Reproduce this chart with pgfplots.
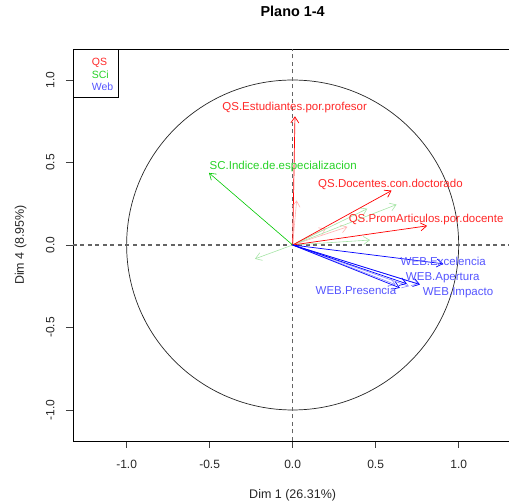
\documentclass[border=0pt]{standalone}
\usepackage{pgfplots}
\pgfplotsset{compat=1.18}
\usepackage{fontspec}
\setmainfont{Liberation Sans}
\usetikzlibrary{arrows.meta}
\definecolor{qsred}{RGB}{255,0,0}
\definecolor{qslab}{RGB}{255,40,40}
\definecolor{scgreen}{RGB}{0,200,0}
\definecolor{sclab}{RGB}{40,210,40}
\definecolor{webblue}{RGB}{0,0,255}
\definecolor{weblab}{RGB}{85,85,255}
\definecolor{dashgray}{RGB}{100,100,100}
\begin{document}
\begin{tikzpicture}
\begin{axis}[
  scale only axis, width=439.3pt, height=392pt,
  xmin=-1.323, xmax=1.323, ymin=-1.188, ymax=1.188,
  xtick={-1,-0.5,0,0.5,1}, ytick={-1,-0.5,0,0.5,1},
  xticklabels={-1.0,-0.5,0.0,0.5,1.0},
  yticklabels={-1.0,-0.5,0.0,0.5,1.0},
  tick pos=left, tick align=outside, major tick length=7pt,
  tick style={black!75, line width=0.8pt},
  axis line style={line width=0.8pt},
  ticklabel style={font=\fontsize{12}{14}\selectfont, text=black!85},
  xticklabel style={anchor=north, yshift=-9pt},
  yticklabel style={xshift=-8pt, rotate=90, anchor=south},
  xlabel={Dim 1 (26.31\%)}, ylabel={Dim 4 (8.95\%)},
  label style={font=\fontsize{12.5}{14}\selectfont, text=black!85},
  xlabel style={at={(axis description cs:0.5,-0.1395)}, anchor=center},
  ylabel style={at={(axis description cs:-0.119,0.5)}, anchor=center, rotate=0},
  title={\textbf{Plano 1-4}},
  title style={at={(axis description cs:0.5,1.0800)}, anchor=center, font=\fontsize{14.4}{16}\selectfont},
  clip=false,
]
% guides
\draw[black!85, line width=0.7pt] (axis cs:0,0) ellipse [x radius=1, y radius=1];
\draw[dashgray, line width=1.4pt, dash pattern=on 4pt off 3.5pt] (axis cs:-1.323,0) -- (axis cs:1.323,0);
\draw[dashgray, line width=1.4pt, dash pattern=on 4pt off 3.5pt] (axis cs:0,-1.188) -- (axis cs:0,1.188);
% faint arrows
\addplot[no markers, red!30, line width=0.6pt, quiver={u=\thisrow{u},v=\thisrow{v}}, -{Straight Barb[length=6pt,width=8pt]}] table {
x y u v
0 0 0.024 0.27
0 0 0.33 0.11
0 0 0.20 0.10
};
\addplot[no markers, green!70!black!35!white, line width=0.6pt, quiver={u=\thisrow{u},v=\thisrow{v}}, -{Straight Barb[length=6pt,width=8pt]}] table {
x y u v
0 0 0.626 0.245
0 0 0.466 0.03
0 0 -0.227 -0.084
0 0 0.45 0.22
};
\addplot[no markers, webblue!45, line width=0.6pt, quiver={u=\thisrow{u},v=\thisrow{v}}, -{Straight Barb[length=6pt,width=8pt]}] table {
x y u v
0 0 0.757 -0.235
0 0 0.70 -0.25
0 0 0.62 -0.24
};
% solid arrows
\addplot[no markers, qsred, line width=0.7pt, quiver={u=\thisrow{u},v=\thisrow{v}}, -{Straight Barb[length=6pt,width=8pt]}] table {
x y u v
0 0 0.014 0.78
0 0 0.596 0.33
0 0 0.81 0.116
};
\addplot[no markers, scgreen, line width=0.6pt, quiver={u=\thisrow{u},v=\thisrow{v}}, -{Straight Barb[length=6pt,width=8pt]}] table {
x y u v
0 0 -0.504 0.437
};
\addplot[no markers, webblue, line width=0.7pt, quiver={u=\thisrow{u},v=\thisrow{v}}, -{Straight Barb[length=6pt,width=8pt]}] table {
x y u v
0 0 0.907 -0.114
0 0 0.767 -0.24
0 0 0.687 -0.235
0 0 0.646 -0.26
};
% labels
\begin{scope}[every node/.style={font=\fontsize{11.5}{13}\selectfont, inner sep=0pt}]
\node[text=qslab] at (axis cs:0.012,0.836) {QS.Estudiantes.por.profesor};
\node[text=sclab] at (axis cs:-0.057,0.478) {SC.Indice.de.especializacion};
\node[text=qslab] at (axis cs:0.589,0.365) {QS.Docentes.con.doctorado};
\node[text=qslab] at (axis cs:0.804,0.153) {QS.PromArticulos.por.docente};
\node[text=weblab] at (axis cs:0.907,-0.100) {WEB.Excelencia};
\node[text=weblab] at (axis cs:0.904,-0.201) {WEB.Apertura};
\node[text=weblab] at (axis cs:0.996,-0.292) {WEB.Impacto};
\node[text=weblab] at (axis cs:0.381,-0.276) {WEB.Presencia};
\end{scope}
% legend box
\draw[black, line width=0.8pt] (rel axis cs:0,1) rectangle (rel axis cs:0.104,0.8775);
\begin{scope}[every node/.style={font=\fontsize{10.5}{12}\selectfont, inner sep=0pt, anchor=west}]
\node[text=qslab] at (rel axis cs:0.0426,0.965) {QS};
\node[text=sclab] at (rel axis cs:0.0426,0.9355) {SCi};
\node[text=weblab] at (rel axis cs:0.0426,0.904) {Web};
\end{scope}
\end{axis}
\pgfresetboundingbox
\path[use as bounding box] (-73pt,-61pt) rectangle (436pt,441pt);
\end{tikzpicture}
\end{document}
